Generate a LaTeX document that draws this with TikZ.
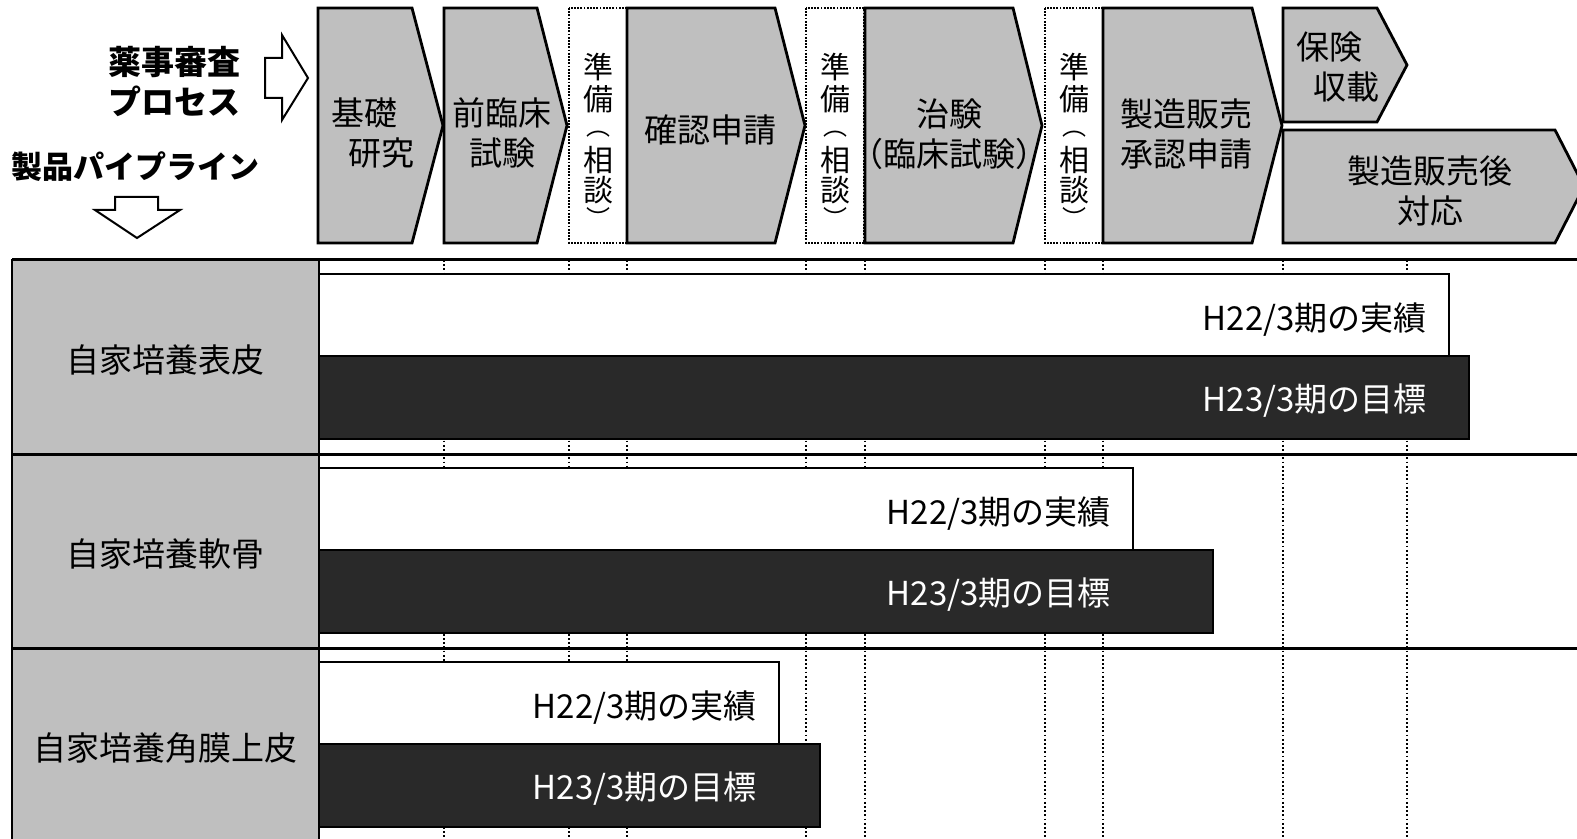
\documentclass[tikz,border=0pt]{standalone}
\usepackage{fontspec}
\setmainfont{Noto Sans CJK JP}
\usepackage{tikz}
\definecolor{phasegray}{gray}{0.75}
\definecolor{goaldark}{gray}{0.16}
\tikzset{phasebox/.style={draw,line width=1.4pt,fill=phasegray,line join=miter},
    prepbox/.style={draw,line width=0.9pt,dash pattern=on 0.9pt off 0.7pt,fill=white},
    phasetext/.style={font=\fontsize{16.5}{20}\selectfont,align=center,inner sep=0},
    preptext/.style={font=\fontsize{15}{18}\selectfont,inner sep=0},
    prepparen/.style={font=\fontsize{12}{14}\selectfont,inner sep=0},
    sidetext/.style={font=\fontsize{16.5}{20}\selectfont\bfseries,align=center,inner sep=0},
    hollowarrow/.style={draw,line width=1pt,fill=white,line join=miter},
    gridline/.style={draw,line width=0.9pt,dash pattern=on 0.9pt off 1.2pt},
    rowhead/.style={draw,line width=1.2pt,fill=phasegray},
    rowtext/.style={font=\fontsize{16.5}{20}\selectfont,inner sep=0},
    rowline/.style={draw,line width=1.5pt},
    planbar/.style={draw,line width=1.2pt,fill=white},
    goalbar/.style={draw,line width=1.2pt,fill=goaldark},
    bartext/.style={font=\fontsize{16.5}{20}\selectfont,inner sep=0}}

\begin{document}
\begin{tikzpicture}[x=0.5pt,y=-0.5pt]

\useasboundingbox (0,0) rectangle (1577,839);

\newcommand\productname[1]
{%
    \ifcase#1 自家培養表皮%
    \or 自家培養軟骨%
    \or 自家培養角膜上皮%
    \fi
}

% preparation slots between the phases, written top to bottom
\foreach \prepindex/\leftx in {0/569,1/806,2/1045}
{
    \draw [prepbox] (\leftx,8) rectangle ({\leftx+58},243);
    \foreach \glyph/\glyphy/\glyphstyle [count=\charindex] in {準/67/preptext,備/99/preptext,︵/134/prepparen,相/160/preptext,談/190/preptext,︶/217/prepparen}
        \node (prep\prepindex-\charindex) [\glyphstyle] at ({\leftx+29},\glyphy) {\glyph};
}

% phases of the review process
\foreach \leftx/\cornerx/\tipx in {318/412/443,444/537/567,627/775/805,865/1013/1042,1103/1252/1282}
{
    \draw [phasebox] (\leftx,8) -- (\cornerx,8) -- (\tipx,125.5) -- (\cornerx,243) -- (\leftx,243) -- cycle;
}
\draw [phasebox] (1283,8) -- (1377,8) -- (1407,65) -- (1377,122) -- (1283,122) -- cycle;
\draw [phasebox] (1283,130) -- (1555,130) -- (1584,186.5) -- (1555,243) -- (1283,243) -- cycle;

\node (kiso) [phasetext,align=left] at (373,133) {基礎\\\hspace{0.5em}研究};
\node (rinsho) [phasetext] at (502,133) {前臨床\\試験};
\node (kakunin) [phasetext] at (710,130) {確認申請};
\node (chiken) [phasetext] at (949,134) {治験\\（臨床試験）};
\node (shonin) [phasetext] at (1186,134) {製造販売\\承認申請};
\node (hoken) [phasetext,align=left] at (1338,67) {保険\\\hspace{0.5em}収載};
\node (postmarket) [phasetext] at (1430,191) {製造販売後\\対応};

% side labels
\node (yakuji) [sidetext] at (174,82) {薬事審査\\プロセス};
\node (pipeline) [sidetext,font=\fontsize{15.5}{20}\selectfont\bfseries] at (135,167) {製品パイプライン};

\draw [hollowarrow] (265,58) -- (282,58) -- (282,35) -- (308,78) -- (282,120) -- (282,98) -- (265,98) -- cycle;
\draw [hollowarrow] (115,197) -- (158,197) -- (158,210) -- (180,210) -- (137,238) -- (95,210) -- (115,210) -- cycle;

% phase borders through the table
\foreach \gridx in {444,569,627,806,865,1045,1103,1283,1407}
    \draw [gridline] (\gridx,260) -- (\gridx,839);

\foreach \rowindex/\planx/\goalx [evaluate=\rowindex as \rowtop using 260+194*\rowindex] in {0/1449/1469,1/1133/1213,2/779/820}
{
    \draw [rowhead] (12,\rowtop) rectangle (319,{\rowtop+194});
    \node (head\rowindex) [rowtext] at (165.5,{\rowtop+100}) {\productname{\rowindex}};
    \draw [planbar] (319,{\rowtop+14}) rectangle (\planx,{\rowtop+96});
    \draw [goalbar] (319,{\rowtop+96}) rectangle (\goalx,{\rowtop+179});
    \node (plan\rowindex) [bartext,anchor=east] at ({\planx-22},{\rowtop+60}) {H22/3期の実績};
    \node (goal\rowindex) [bartext,text=white,anchor=east] at ({\planx-22},{\rowtop+141}) {H23/3期の目標};
}

\foreach \rowtop in {260,454,648}
    \draw [rowline] (12,\rowtop) -- (1577,\rowtop);

\end{tikzpicture}
\end{document}
